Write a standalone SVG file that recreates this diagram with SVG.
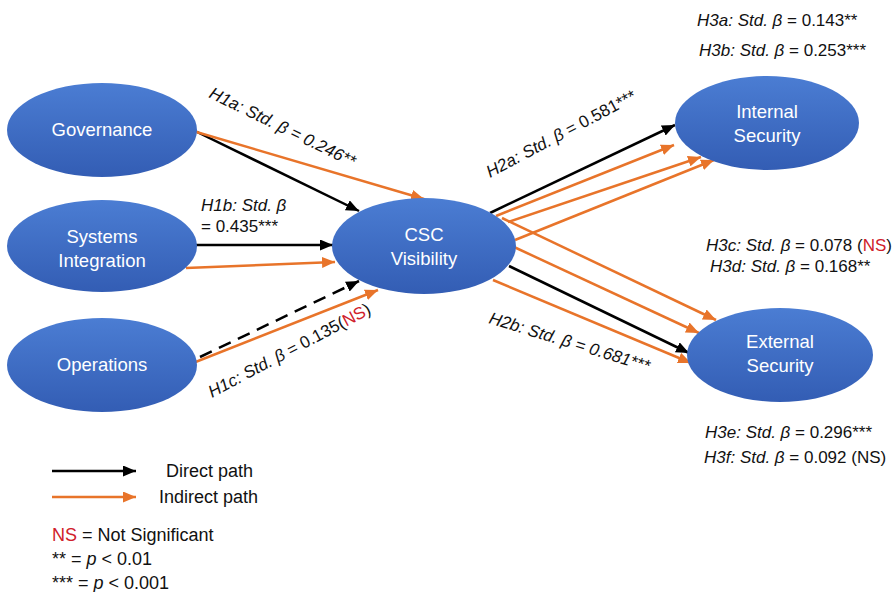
<svg xmlns="http://www.w3.org/2000/svg" width="893" height="592" viewBox="0 0 893 592">
<style>
.node{fill:url(#g);}
.nt{font-family:"Liberation Sans","Open Sans",sans-serif;font-size:18.5px;fill:#fff;text-anchor:middle;}
.lb{font-family:"Liberation Sans","Open Sans",sans-serif;font-size:17px;fill:#111;}
.lg{font-family:"Liberation Sans","Open Sans",sans-serif;font-size:18px;fill:#111;}
.it{font-style:italic;}
.ns{fill:#d0202a;}
.blk{stroke:#000;stroke-width:2.5;fill:none;marker-end:url(#ab);}
.org{stroke:#e8742a;stroke-width:2.5;fill:none;marker-end:url(#ao);}
</style>
<defs>
<linearGradient id="g" x1="0" y1="0" x2="0" y2="1">
<stop offset="0" stop-color="#4b7dd3"/>
<stop offset="1" stop-color="#335db4"/>
</linearGradient>
<marker id="ab" markerUnits="userSpaceOnUse" markerWidth="13" markerHeight="11" refX="13" refY="5.5" orient="auto"><path d="M0,0 L13,5.5 L0,11 z" fill="#000"/></marker>
<marker id="ao" markerUnits="userSpaceOnUse" markerWidth="13" markerHeight="11" refX="13" refY="5.5" orient="auto"><path d="M0,0 L13,5.5 L0,11 z" fill="#e8742a"/></marker>
</defs>
<rect width="893" height="592" fill="#fff"/>

<g id="connectors">
<line class="blk" x1="193" y1="130" x2="359" y2="211"/>
<line class="org" x1="193" y1="131" x2="424" y2="199"/>
<line class="blk" x1="193" y1="245" x2="333" y2="245"/>
<line class="org" x1="186" y1="268" x2="335" y2="262"/>
<line class="blk" x1="200" y1="357" x2="359" y2="281" stroke-dasharray="13,8"/>
<line class="org" x1="193" y1="363" x2="378" y2="290"/>
<line class="blk" x1="490" y1="213" x2="675" y2="125"/>
<line class="org" x1="496" y1="216" x2="674" y2="145"/>
<line class="org" x1="508" y1="222" x2="701" y2="157"/>
<line class="org" x1="515" y1="240" x2="714" y2="160"/>
<line class="org" x1="502" y1="218" x2="716" y2="320"/>
<line class="org" x1="514" y1="247" x2="699" y2="333"/>
<line class="blk" x1="509" y1="266" x2="689" y2="353"/>
<line class="org" x1="493" y1="280" x2="691" y2="363"/>
</g>

<g id="governance"><ellipse class="node" cx="102" cy="130" rx="95" ry="47"/><text class="nt" x="102" y="136">Governance</text></g>
<g id="systems-integration"><ellipse class="node" cx="102" cy="246" rx="95" ry="46"/><text class="nt" x="102" y="243">Systems</text><text class="nt" x="102" y="267">Integration</text></g>
<g id="operations"><ellipse class="node" cx="102" cy="365" rx="95" ry="47"/><text class="nt" x="102" y="371">Operations</text></g>
<g id="csc-visibility"><ellipse class="node" cx="424" cy="246" rx="92" ry="48"/><text class="nt" x="424" y="241">CSC</text><text class="nt" x="424" y="265">Visibility</text></g>
<g id="internal-security"><ellipse class="node" cx="767" cy="123" rx="92" ry="47"/><text class="nt" x="767" y="118">Internal</text><text class="nt" x="767" y="142">Security</text></g>
<g id="external-security"><ellipse class="node" cx="780" cy="355" rx="93" ry="47"/><text class="nt" x="780" y="348">External</text><text class="nt" x="780" y="372">Security</text></g>

<g id="labels">
<text class="lb it" transform="translate(208,97) rotate(26)">H1a: Std. β = 0.246**</text>
<text class="lb it" x="201" y="211">H1b: Std. β</text>
<text class="lb" x="201" y="232">= 0.435***</text>
<text class="lb" transform="translate(212,398) rotate(-28)"><tspan class="it">H1c: Std. β</tspan> = 0.135(<tspan class="ns">NS</tspan>)</text>
<text class="lb" transform="translate(490,178) rotate(-28)"><tspan class="it">H2a: Std. β</tspan> = 0.581***</text>
<text class="lb it" transform="translate(488,323) rotate(17)">H2b: Std. β = 0.681***</text>
<text class="lb" x="697" y="26"><tspan class="it">H3a: Std. β</tspan> = 0.143**</text>
<text class="lb" x="699" y="56"><tspan class="it">H3b: Std. β</tspan> = 0.253***</text>
<text class="lb" x="706" y="251" font-size="16"><tspan class="it">H3c: Std. β</tspan> = 0.078 (<tspan class="ns">NS</tspan>)</text>
<text class="lb" x="710" y="272"><tspan class="it">H3d: Std. β</tspan> = 0.168**</text>
<text class="lb" x="705" y="438"><tspan class="it">H3e: Std. β</tspan> = 0.296***</text>
<text class="lb" x="704" y="463" font-size="16.5"><tspan class="it">H3f: Std. β</tspan> = 0.092 (NS)</text>
</g>

<g id="legend">
<line class="blk" x1="52" y1="471" x2="136" y2="471"/>
<line class="org" x1="52" y1="497" x2="136" y2="497"/>
<text class="lg" x="166" y="477">Direct path</text>
<text class="lg" x="159" y="503">Indirect path</text>
<text class="lg" x="52" y="541"><tspan class="ns">NS</tspan> = Not Significant</text>
<text class="lg" x="52" y="565">** = <tspan class="it">p</tspan> &lt; 0.01</text>
<text class="lg" x="52" y="589">*** = <tspan class="it">p</tspan> &lt; 0.001</text>
</g>
</svg>
